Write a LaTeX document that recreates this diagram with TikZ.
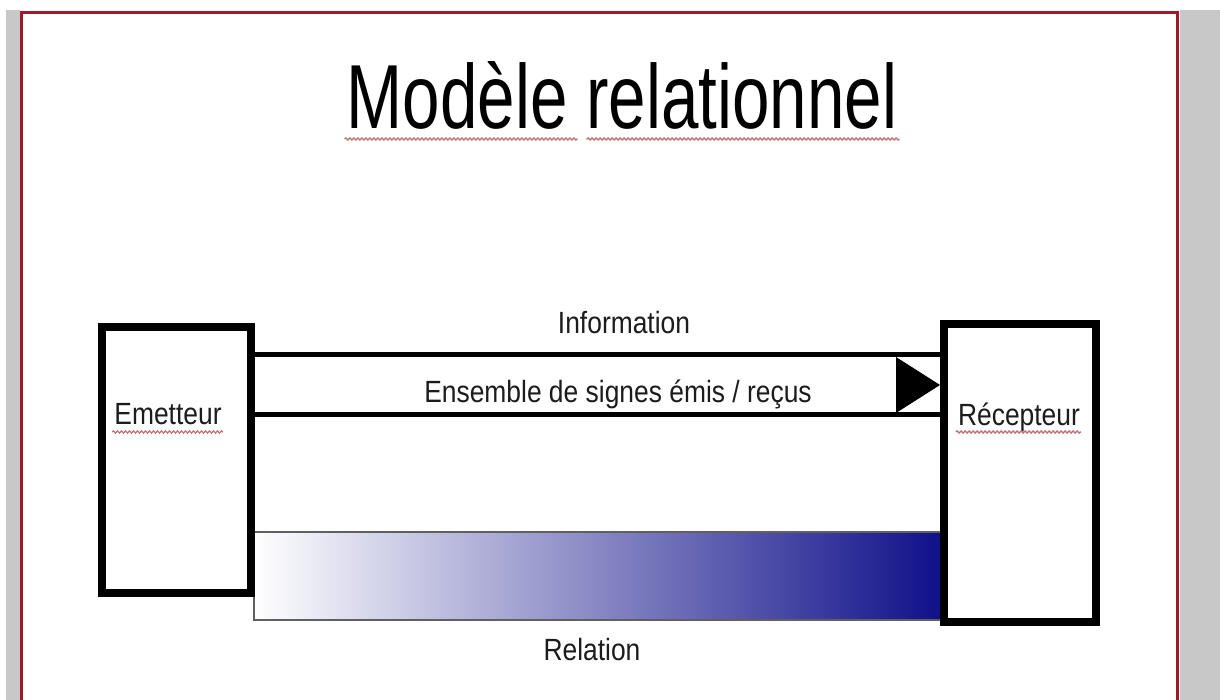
\documentclass[tikz,border=0pt]{standalone}
\usepackage{fontspec}
\setmainfont{Liberation Sans}[FakeStretch=0.86]
\newfontfamily\titrefont{Liberation Sans}[FakeStretch=0.74]
\usetikzlibrary{positioning, calc, decorations.pathmorphing}
\definecolor{fond}{RGB}{200,200,200}
\definecolor{cadre}{RGB}{158,26,38}
\definecolor{marine}{RGB}{16,16,138}
\definecolor{encre}{RGB}{28,28,28}

\begin{document}
\begin{tikzpicture}[x=1pt, y=-1pt,
		bloc/.style={draw, line width=8pt, fill=white, inner sep=0pt},
		bande/.style={line width=5pt},
		txt/.style={font=\fontsize{30.7}{36}\selectfont, text=encre, anchor=base, inner sep=0pt},
		souligne/.style={red!35!gray!80, line width=1.3pt, decorate, decoration={snake, amplitude=1.1pt, segment length=4pt}}]
	\useasboundingbox (0,0) rectangle (1220,700);
	% fond gris et cadre rouge de la diapo
	\fill[white] (0,0) rectangle (1220,700);
	\fill[fond] (6,10) rectangle (20,700);
	\fill[fond] (1180,10) rectangle (1220,700);
	\draw[cadre, line width=3.5pt] (21.5,12.5) rectangle (1177.5,704);

	\node[anchor=base, inner sep=0pt, font=\titrefont\fontsize{91}{100}\selectfont] (titre) at (622,129) {Modèle relationnel};

	% barre de la relation, sous les deux blocs
	\node[draw=gray!75!black, line width=2.5pt, left color=white, right color=marine,
		minimum width=687pt, minimum height=88pt, inner sep=0pt] (relation) at (597.5,576) {};
	\node[txt] (txt-rel) at (592,660) {Relation};

	\node[bloc, minimum width=149pt, minimum height=266pt] (emetteur) at (176.5,460) {};
	\node[bloc, minimum width=152pt, minimum height=298pt] (recepteur) at (1020,473) {};
	\node[txt] (txt-em) at (168,424) {Emetteur};
	\node[txt] (txt-rec) at (1019,425) {Récepteur};

	% bande de l'information
	\coordinate (haut) at ($(emetteur.east)+(0,-105.5)$);
	\coordinate (bas) at ($(emetteur.east)+(0,-45.5)$);
	\foreach \c in {haut,bas}
		\draw[bande] (\c) -- (\c -| recepteur.west);
	\path (recepteur.west) ++(0,-88) coordinate (pointe);
	\fill (pointe) -- ++(-44,-28) -- ++(0,56) -- cycle;
	\node[txt] (info) at (624,334) {Information};
	\node[txt] (signes) at (618,402) {Ensemble de signes émis / reçus};

	% soulignements du correcteur
	\draw[souligne] ($(titre.base west)+(-2,10)$) -- ++(233,0);
	\draw[souligne] ($(titre.base east)+(2,10)$) -- ++(-313,0);
	\draw[souligne] ($(txt-em.base west)+(-2,8)$) -- ($(txt-em.base east)+(1,8)$);
	\draw[souligne] ($(txt-rec.base west)+(-2,7)$) -- ($(txt-rec.base east)+(1,7)$);
\end{tikzpicture}
\end{document}
